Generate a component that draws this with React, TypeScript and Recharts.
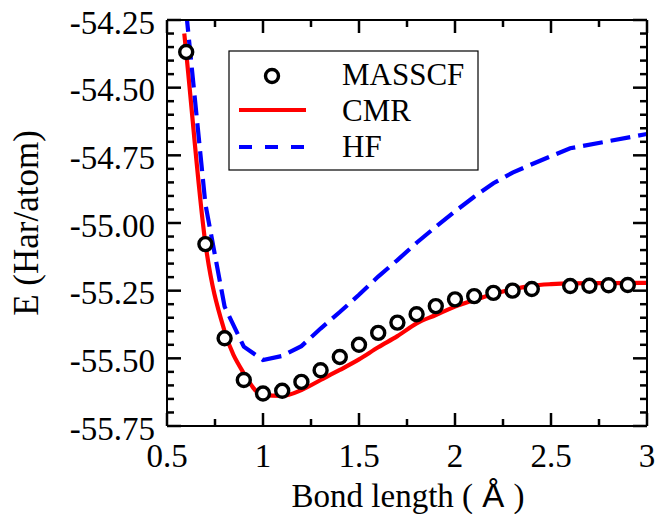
import { ComposedChart, Line, Scatter, XAxis, YAxis } from "recharts";

const bondMasscf = [0.6, 0.7, 0.8, 0.9, 1.0, 1.1, 1.2, 1.3, 1.4, 1.5, 1.6, 1.7, 1.8, 1.9, 2.0, 2.1, 2.2, 2.3, 2.4, 2.6, 2.7, 2.8, 2.9];
const eMasscf = [-54.368, -55.078, -55.426, -55.58, -55.63, -55.62, -55.587, -55.544, -55.495, -55.45, -55.406, -55.368, -55.337, -55.307, -55.282, -55.27, -55.258, -55.25, -55.244, -55.233, -55.232, -55.23, -55.229];

const bondCmr = [0.59, 0.6, 0.7, 0.8, 0.9, 1.0, 1.1, 1.2, 1.3, 1.4, 1.5, 1.6, 1.7, 1.8, 1.9, 2.0, 2.1, 2.2, 2.3, 2.4, 2.5, 2.6, 2.8, 3.0];
const eCmr = [-54.3, -54.37, -55.075, -55.4, -55.555, -55.636, -55.639, -55.617, -55.58, -55.543, -55.504, -55.459, -55.418, -55.371, -55.34, -55.309, -55.285, -55.262, -55.245, -55.232, -55.226, -55.223, -55.222, -55.221];

const bondHf = [0.6, 0.7, 0.8, 0.9, 1.0, 1.1, 1.2, 1.3, 1.4, 1.5, 1.6, 1.7, 1.8, 1.9, 2.0, 2.1, 2.2, 2.3, 2.4, 2.5, 2.6, 3.0];
const eHf = [-54.22, -54.93, -55.309, -55.457, -55.506, -55.491, -55.455, -55.39, -55.329, -55.265, -55.198, -55.137, -55.073, -55.014, -54.957, -54.903, -54.853, -54.814, -54.783, -54.753, -54.724, -54.671];

const xMajorTicks = [0.5, 1, 1.5, 2, 2.5, 3];
const xMinorStep = 0.25;
const yMajorTicks = [-55.75, -55.5, -55.25, -55.0, -54.75, -54.5, -54.25];
const yMinorStep = 0.05;
const yTickLabels = ["-55.75", "-55.50", "-55.25", "-55.00", "-54.75", "-54.50", "-54.25"];

const legendLabels = ["MASSCF", "CMR", "HF"];

const X_DOMAIN: [number, number] = [0.5, 3];
const Y_DOMAIN: [number, number] = [-55.75, -54.25];

const CHART_W = 655;
const CHART_H = 514;
const TOP_H = 20;
const RIGHT_W = 8;

const SERIF = "Liberation Serif";
const SANS = "Liberation Sans";
const HF_DASH = "20 8";

const zip = (xs: number[], ys: number[]) => xs.map((x, i) => ({ x, y: ys[i] }));
const masscfData = zip(bondMasscf, eMasscf);
const cmrData = zip(bondCmr, eCmr);
const hfData = zip(bondHf, eHf);

function stepTicks([lo, hi]: [number, number], step: number) {
  const n = Math.round((hi - lo) / step);
  return Array.from({ length: n + 1 }, (_, i) => +(lo + i * step).toFixed(4));
}
const xTicks = stepTicks(X_DOMAIN, xMinorStep);
const yTicks = stepTicks(Y_DOMAIN, yMinorStep);

const majorIndex = (v: number, majors: number[]) => majors.findIndex((m) => Math.abs(m - v) < 1e-6);

const TICK_MARGIN_Y = 12;
const TICK_MARGIN_X = 18;
const TICK_W = 2.5;

const renderLeftTick = (props: any) => {
  const { x, y, payload } = props;
  const idx = majorIndex(payload.value, yMajorTicks);
  if (idx < 0) return <g />;
  return (
    <text x={x} y={y + 2} dy="0.35em" textAnchor="end" fontFamily={SERIF} fontSize={33} fill="#000">
      {yTickLabels[idx]}
    </text>
  );
};

const renderBottomTick = (props: any) => {
  const { x, y, payload } = props;
  if (majorIndex(payload.value, xMajorTicks) < 0) return <g />;
  return (
    <text x={x} y={y} dy="0.71em" textAnchor="middle" fontFamily={SERIF} fontSize={33} fill="#000">
      {String(payload.value)}
    </text>
  );
};

const renderRing = (props: any) => {
  const { cx, cy } = props;
  if (cx == null || cy == null) return <g />;
  return <circle cx={cx} cy={cy} r={6.5} fill="#fff" stroke="#000" strokeWidth={3.4} />;
};

// inward tick marks on bottom and mirrored top edge, placed from the axis viewBox
const renderXTitle = (props: any) => {
  const { x, y, width } = props.viewBox;
  const span = X_DOMAIN[1] - X_DOMAIN[0];
  return (
    <g>
      {xTicks.map((v) => {
        const px = x + ((v - X_DOMAIN[0]) / span) * width;
        const len = majorIndex(v, xMajorTicks) >= 0 ? 13 : 7;
        return (
          <g key={v}>
            <line x1={px} x2={px} y1={y} y2={y - len} stroke="#000" strokeWidth={TICK_W} />
            <line x1={px} x2={px} y1={TOP_H} y2={TOP_H + len} stroke="#000" strokeWidth={TICK_W} />
          </g>
        );
      })}
      <text x={x + width / 2 + 1} y={y + 81} textAnchor="middle" fontFamily={SERIF} fontSize={33} fill="#000">
        Bond length (<tspan fontFamily={SANS}> Å </tspan>)
      </text>
    </g>
  );
};

// inward tick marks on left and mirrored right edge
const renderYTitle = (props: any) => {
  const { x, y, width, height } = props.viewBox;
  const span = Y_DOMAIN[1] - Y_DOMAIN[0];
  const left = x + width;
  const right = CHART_W - RIGHT_W;
  const cx = 26;
  const cy = y + height / 2;
  return (
    <g>
      {yTicks.map((v) => {
        const py = y + ((Y_DOMAIN[1] - v) / span) * height;
        const len = majorIndex(v, yMajorTicks) >= 0 ? 14 : 7;
        return (
          <g key={v}>
            <line x1={left} x2={left + len} y1={py} y2={py} stroke="#000" strokeWidth={TICK_W} />
            <line x1={right} x2={right - len} y1={py} y2={py} stroke="#000" strokeWidth={TICK_W} />
          </g>
        );
      })}
      <text
        x={cx}
        y={cy}
        transform={`rotate(-90 ${cx} ${cy})`}
        textAnchor="middle"
        dominantBaseline="central"
        fontFamily={SERIF}
        fontSize={35}
        fill="#000"
      >
        E (Har/atom)
      </text>
    </g>
  );
};

function LegendBox() {
  return (
    <svg width={252} height={122} style={{ position: "absolute", left: 228, top: 50 }}>
      <rect x={1} y={1} width={249} height={119} fill="#fff" stroke="#000" strokeWidth={1.2} />
      <circle cx={44} cy={26} r={6.5} fill="#fff" stroke="#000" strokeWidth={3.4} />
      <line x1={11} x2={78} y1={60} y2={60} stroke="#ff0000" strokeWidth={4.2} />
      <line x1={11} x2={78} y1={97} y2={97} stroke="#0000ff" strokeWidth={4.2} strokeDasharray="13 13" />
      {legendLabels.map((t, i) => (
        <text key={t} x={114} y={35 + i * 36} fontFamily={SERIF} fontSize={31} fill="#000">
          {t}
        </text>
      ))}
    </svg>
  );
}

export default function App() {
  return (
    <div style={{ position: "absolute", left: 0, top: 0, width: CHART_W, height: CHART_H, background: "#fff", overflow: "hidden" }}>
      <ComposedChart width={CHART_W} height={CHART_H} margin={{ top: 0, right: 0, bottom: 0, left: 0 }}>
        <XAxis
          xAxisId="bottom"
          dataKey="x"
          type="number"
          domain={X_DOMAIN}
          ticks={xTicks}
          allowDataOverflow
          height={88}
          tickSize={0}
          tickMargin={TICK_MARGIN_X}
          tickLine={false}
          axisLine={{ stroke: "#000", strokeWidth: 2 }}
          tick={renderBottomTick}
          interval={0}
          label={{ content: renderXTitle }}
        />
        <XAxis
          xAxisId="top"
          orientation="top"
          type="number"
          domain={X_DOMAIN}
          height={TOP_H}
          tick={false}
          tickLine={false}
          axisLine={{ stroke: "#000", strokeWidth: 2 }}
        />
        <YAxis
          yAxisId="left"
          dataKey="y"
          type="number"
          domain={Y_DOMAIN}
          ticks={yTicks}
          allowDataOverflow
          width={167}
          tickSize={0}
          tickMargin={TICK_MARGIN_Y}
          tickLine={false}
          axisLine={{ stroke: "#000", strokeWidth: 2 }}
          tick={renderLeftTick}
          interval={0}
          label={{ content: renderYTitle }}
        />
        <YAxis
          yAxisId="right"
          orientation="right"
          type="number"
          domain={Y_DOMAIN}
          width={RIGHT_W}
          tick={false}
          tickLine={false}
          axisLine={{ stroke: "#000", strokeWidth: 2 }}
        />
        <Line
          xAxisId="bottom"
          yAxisId="left"
          data={cmrData}
          dataKey="y"
          type="monotone"
          stroke="#ff0000"
          strokeWidth={4.2}
          dot={false}
          activeDot={false}
          isAnimationActive={false}
        />
        <Line
          xAxisId="bottom"
          yAxisId="left"
          data={hfData}
          dataKey="y"
          type="linear"
          stroke="#0000ff"
          strokeWidth={4.2}
          strokeDasharray={HF_DASH}
          dot={false}
          activeDot={false}
          isAnimationActive={false}
        />
        <Scatter
          xAxisId="bottom"
          yAxisId="left"
          data={masscfData}
          dataKey="y"
          shape={renderRing}
          isAnimationActive={false}
        />
      </ComposedChart>
      <LegendBox />
    </div>
  );
}
